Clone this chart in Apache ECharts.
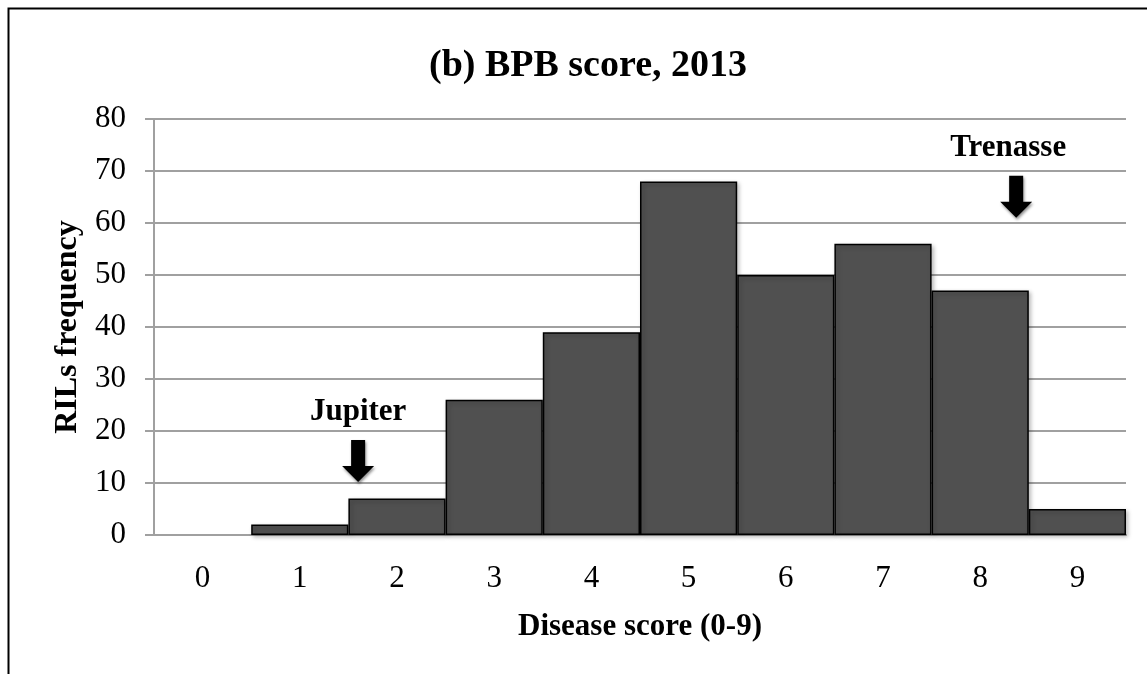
<!DOCTYPE html>
<html>
<head>
<meta charset="utf-8">
<script src="https://cdn.jsdelivr.net/npm/echarts@6/dist/echarts.min.js"></script>
<style>
html,body{margin:0;padding:0;background:#fff;}
#main{width:1147px;height:674px;}
</style>
</head>
<body>
<div id="main"></div>
<script>
const categories = ['0','1','2','3','4','5','6','7','8','9'];
const frequencies = [0, 2, 7, 26, 39, 68, 50, 56, 47, 5];
const yTicks = { min: 0, max: 80, interval: 10 };
// annotation arrows: position on score scale (x) and frequency (y) of the arrow tip
const annotations = [
  { name: 'Jupiter', x: 1.6, y: 10.2 },
  { name: 'Trenasse', x: 8.37, y: 61 }
];

const FONT = '"Liberation Serif", "Times New Roman", serif';
const chart = echarts.init(document.getElementById('main'), null, { renderer: 'canvas' });

const option = {
  backgroundColor: '#ffffff',
  animation: false,
  title: {
    text: '(b) BPB score, 2013',
    left: 583, textAlign: 'center',
    top: 42,
    textStyle: { fontFamily: FONT, fontWeight: 'bold', fontSize: 38, color: '#000' }
  },
  graphic: [{
    type: 'rect', silent: true, z: 100,
    shape: { x: 8.5, y: 8.5, width: 1200, height: 720 },
    style: { fill: 'none', stroke: '#000', lineWidth: 2 }
  }],
  grid: { left: 154, right: 21, top: 119, bottom: 139, containLabel: false },
  xAxis: [{
    type: 'category',
    data: categories,
    name: 'Disease score (0-9)',
    nameLocation: 'middle',
    nameGap: 76,
    nameTextStyle: { fontFamily: FONT, fontWeight: 'bold', fontSize: 31, color: '#000' },
    axisLine: { show: true, lineStyle: { color: '#a0a0a0', width: 2 } },
    axisTick: { show: false },
    axisLabel: { fontFamily: FONT, fontSize: 31, color: '#000', margin: 28 },
    splitLine: { show: false }
  }, {
    type: 'value', min: -0.5, max: 9.5, show: false
  }],
  yAxis: {
    type: 'value',
    min: yTicks.min, max: yTicks.max, interval: yTicks.interval,
    name: 'RILs frequency',
    nameLocation: 'middle',
    nameGap: 70,
    nameRotate: 90,
    nameTextStyle: { fontFamily: FONT, fontWeight: 'bold', fontSize: 32, color: '#000' },
    axisLine: { show: true, onZero: false, lineStyle: { color: '#a0a0a0', width: 2 } },
    axisTick: { show: true, length: 9, lineStyle: { color: '#a0a0a0', width: 2 } },
    axisLabel: { fontFamily: FONT, fontSize: 31, color: '#000', margin: 28 },
    splitLine: { show: true, lineStyle: { color: '#a0a0a0', width: 2 } }
  },
  series: [{
    type: 'bar',
    data: frequencies.map(v => v === 0 ? { value: v, itemStyle: { borderWidth: 0, shadowBlur: 0, shadowOffsetX: 0, shadowOffsetY: 0 } } : v),
    barCategoryGap: '0%',
    itemStyle: {
      color: '#505050', borderColor: '#000', borderWidth: 1.5,
      shadowBlur: 4, shadowColor: 'rgba(0,0,0,0.25)', shadowOffsetX: 2, shadowOffsetY: 2
    },
    z: 3
  }, {
    type: 'custom',
    xAxisIndex: 1,
    data: annotations.map(a => [a.x, a.y, a.name]),
    z: 10,
    renderItem: function (params, api) {
      const p = api.coord([api.value(0), api.value(1)]);
      const x = p[0], y = p[1];
      const name = annotations[params.dataIndex].name;
      const shaftW = 14, headW = 32, headL = 16, total = 42;
      return {
        type: 'group',
        children: [{
          type: 'polygon',
          shape: { points: [
            [x - shaftW / 2, y - total], [x + shaftW / 2, y - total],
            [x + shaftW / 2, y - headL], [x + headW / 2, y - headL],
            [x, y], [x - headW / 2, y - headL], [x - shaftW / 2, y - headL]
          ] },
          style: { fill: '#000', shadowBlur: 3, shadowColor: 'rgba(0,0,0,0.45)', shadowOffsetX: 1, shadowOffsetY: 2 }
        }, {
          type: 'text',
          x: x - (name === 'Trenasse' ? 8 : 0),
          y: y - total - 28,
          style: {
            text: name, fill: '#000', font: 'bold 31px ' + FONT,
            align: 'center', verticalAlign: 'middle'
          }
        }]
      };
    }
  }]
};
chart.setOption(option);
</script>
</body>
</html>
